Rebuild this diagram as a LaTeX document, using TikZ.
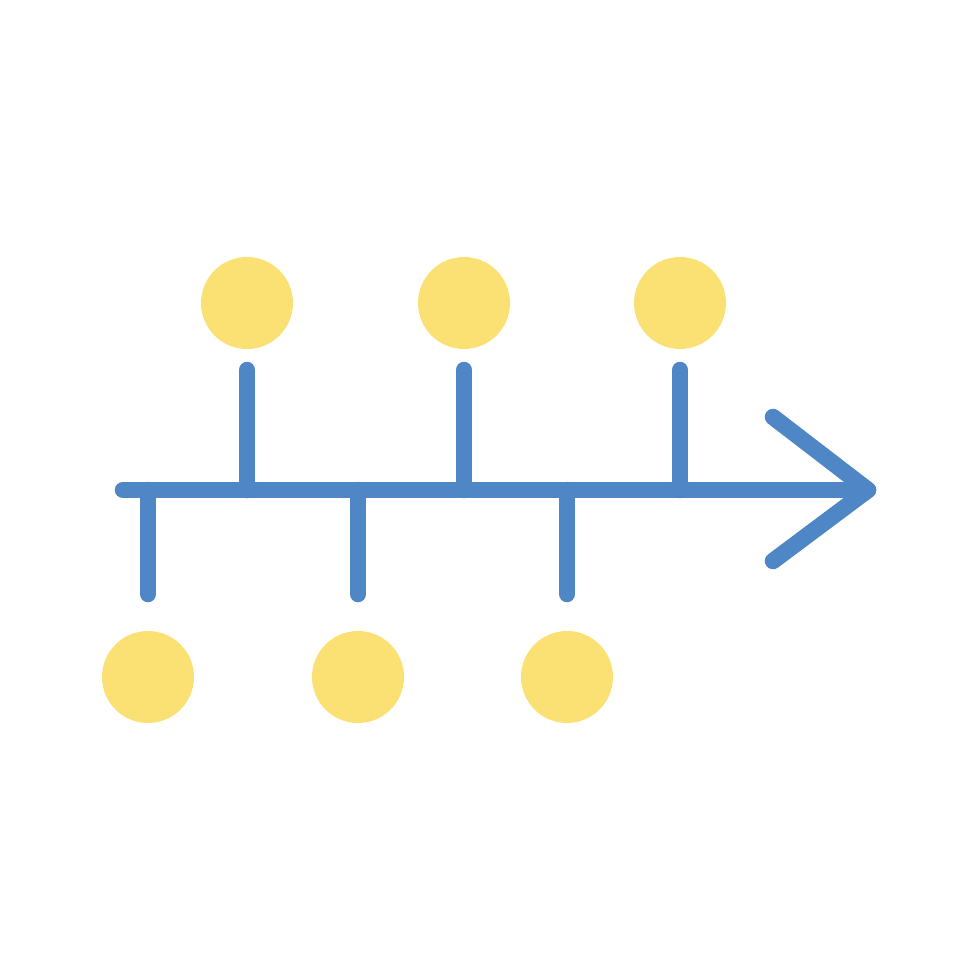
\documentclass[tikz,border=0pt]{standalone}
\usepackage{tikz}

\definecolor{boneblue}{RGB}{78,134,198}
\definecolor{dotyellow}{RGB}{251,224,115}

\begin{document}
\begin{tikzpicture}[x=0.1mm,y=-0.1mm,
bone/.style={draw=boneblue,line width=1.65mm,line cap=round,line join=round},
dot/.style={circle,fill=dotyellow,inner sep=0,minimum size=9.2mm}
]
\useasboundingbox (0,0) rectangle (980,980);

\coordinate (tail) at (123,490);
\coordinate (head) at (868,490);
\coordinate (barb1) at (773,417);
\coordinate (barb2) at (773,561);

\draw[bone] (tail) -- (head);
\draw[bone] (barb1) -- (head) -- (barb2);

\foreach \i/\x in {1/247,2/464,3/680} {
\node[dot] (up\i) at (\x,303) {};
\coordinate (upend\i) at (\x,370);
\draw[bone] (upend\i) -- (upend\i |- tail);
};

\foreach \i/\x in {1/148,2/358,3/567} {
\node[dot] (low\i) at (\x,677) {};
\coordinate (lowend\i) at (\x,594);
\draw[bone] (lowend\i) -- (lowend\i |- tail);
};
\end{tikzpicture}
\end{document}
